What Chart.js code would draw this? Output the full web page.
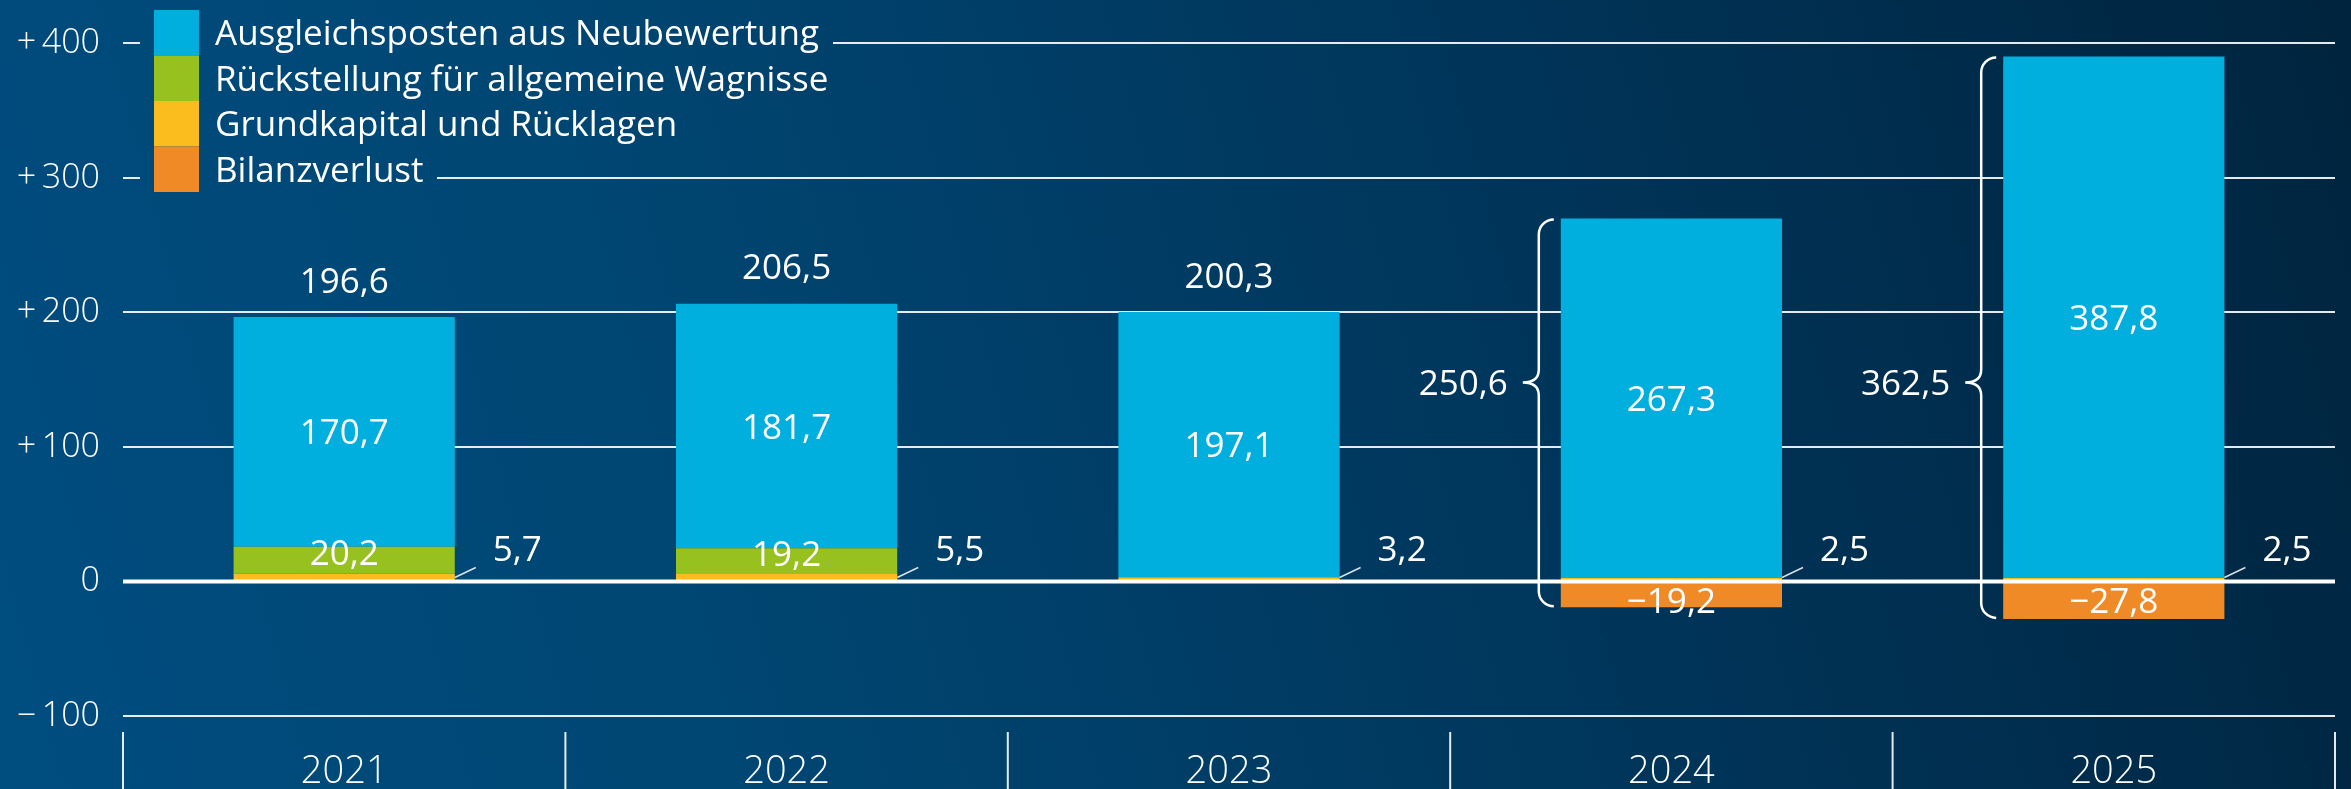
<!DOCTYPE html>
<html lang="de">
<head>
<meta charset="UTF-8">
<title>Eigenkapital</title>
<script src="https://cdn.jsdelivr.net/npm/chart.js"></script>
<style>
    html, body { margin: 0; padding: 0; overflow: hidden; }
    body {
        width: 2351px; height: 789px;
        background: linear-gradient(75deg, #004d80 0%, #004672 30%, #00355a 65%, #00243e 100%);
    }
    canvas { display: block; }
</style>
</head>
<body>
<canvas id="chart" width="2351" height="789"></canvas>
<script>
    const years = ['2021', '2022', '2023', '2024', '2025'];
    const neubewertung = [170.7, 181.7, 197.1, 267.3, 387.8];
    const wagnisse = [20.2, 19.2, 0, 0, 0];
    const grundkapital = [5.7, 5.5, 3.2, 2.5, 2.5];
    const bilanzverlust = [0, 0, 0, -19.2, -27.8];
    const totals = [196.6, 206.5, 200.3, 250.6, 362.5];
    const yTicks = [-100, 0, 100, 200, 300, 400];

    const seriesNames = ['Ausgleichsposten aus Neubewertung', 'Rückstellung für allgemeine Wagnisse', 'Grundkapital und Rücklagen', 'Bilanzverlust'];
    const seriesColors = ['#00afde', '#97c11f', '#fbbd1e', '#ef8a26'];

    const FONT = '"Open Sans", "DejaVu Sans", sans-serif';
    const braceTipValue = 148;

    function fmt(v) {
        return (v < 0 ? '\u2212' : '') + Math.abs(v).toFixed(1).replace('.', ',');
    }

    // draw text so that the digits are vertically centred on cy
    function label(ctx, str, x, cy, size, align, weight) {
        ctx.font = (weight || 400) + ' ' + size + 'px ' + FONT;
        ctx.textAlign = align || 'center';
        ctx.textBaseline = 'alphabetic';
        ctx.fillStyle = '#ffffff';
        ctx.fillText(str, x, cy + size * 0.357);
    }

    function line(ctx, x1, y1, x2, y2) {
        ctx.beginPath();
        ctx.moveTo(x1, y1);
        ctx.lineTo(x2, y2);
        ctx.stroke();
    }

    function drawBrace(ctx, x, top, bottom, tipY) {
        const r = 15, tw = 16, th = 13;
        ctx.beginPath();
        ctx.moveTo(x + r, top);
        ctx.arcTo(x, top, x, top + r, r);
        ctx.lineTo(x, tipY - th);
        ctx.quadraticCurveTo(x, tipY, x - tw, tipY);
        ctx.quadraticCurveTo(x, tipY, x, tipY + th);
        ctx.lineTo(x, bottom - r);
        ctx.arcTo(x, bottom, x + r, bottom, r);
        ctx.stroke();
    }

    const legendPlugin = {
        id: 'stackLegend',
        beforeDatasetsDraw(chart) {
            const ctx = chart.ctx;
            const left = 154, top = 10, sw = 45, rowH = 45.5;
            ctx.save();
            seriesNames.forEach((name, i) => {
                const y0 = top + i * rowH;
                ctx.font = '400 35px ' + FONT;
                const w = ctx.measureText(name).width;
                ctx.clearRect(140, y0, 215 + w + 14 - 140, rowH);
                ctx.fillStyle = seriesColors[i];
                ctx.fillRect(left, y0, sw, rowH);
                label(ctx, name, 215, y0 + rowH / 2, 35, 'left');
            });
            ctx.restore();
        }
    };

    const labelPlugin = {
        id: 'valueLabels',
        afterDatasetsDraw(chart) {
            const ctx = chart.ctx;
            const area = chart.chartArea;
            const y = chart.scales.y, x = chart.scales.x;
            const zeroY = y.getPixelForValue(0);
            ctx.save();
            ctx.strokeStyle = '#ffffff';

            // zero line on top of the bars
            ctx.lineWidth = 4;
            line(ctx, area.left, zeroY, area.right, zeroY);

            // category dividers below the plot
            const step = (area.right - area.left) / years.length;
            ctx.lineWidth = 2;
            ctx.strokeStyle = 'rgba(255,255,255,0.9)';
            for (let i = 0; i <= years.length; i++) {
                const px = i < years.length ? x.getPixelForValue(i) - step / 2 : x.getPixelForValue(i - 1) + step / 2;
                line(ctx, px, area.bottom + 16, px, chart.height);
            }

            years.forEach((yr, i) => {
                const grn = chart.getDatasetMeta(1).data[i];
                const blu = chart.getDatasetMeta(2).data[i];
                const org = chart.getDatasetMeta(3).data[i];
                const left = blu.x - blu.width / 2, right = blu.x + blu.width / 2;

                label(ctx, fmt(neubewertung[i]), blu.x, (blu.y + blu.base) / 2, 35);
                if (wagnisse[i]) label(ctx, fmt(wagnisse[i]), grn.x, (grn.y + grn.base) / 2 - 8, 35);

                ctx.strokeStyle = 'rgba(255,255,255,0.85)';
                ctx.lineWidth = 1.5;
                line(ctx, right, zeroY - 4, right + 21, zeroY - 14);
                label(ctx, fmt(grundkapital[i]), right + 38, zeroY - 33, 35, 'left');

                if (bilanzverlust[i] < 0) {
                    label(ctx, fmt(bilanzverlust[i]), org.x, Math.max((org.y + org.base) / 2, zeroY + 19), 35);
                    const bx = left - 22;
                    const tipY = y.getPixelForValue(braceTipValue);
                    ctx.strokeStyle = '#ffffff';
                    ctx.lineWidth = 2.5;
                    drawBrace(ctx, bx, blu.y + 1, org.y - 1, tipY);
                    label(ctx, fmt(totals[i]), bx - 31, tipY, 35, 'right');
                } else {
                    label(ctx, fmt(totals[i]), blu.x, blu.y - 37, 35);
                }
            });
            ctx.restore();
        }
    };

    new Chart(document.getElementById('chart'), {
        type: 'bar',
        data: {
            labels: years,
            datasets: [
                { label: seriesNames[2], data: grundkapital, backgroundColor: seriesColors[2] },
                { label: seriesNames[1], data: wagnisse, backgroundColor: seriesColors[1] },
                { label: seriesNames[0], data: neubewertung, backgroundColor: seriesColors[0] },
                { label: seriesNames[3], data: bilanzverlust, backgroundColor: seriesColors[3] }
            ]
        },
        options: {
            responsive: false,
            animation: false,
            layout: { padding: { top: 40, right: 16, left: 0, bottom: 0 } },
            datasets: { bar: { categoryPercentage: 0.5, barPercentage: 1, borderWidth: 0 } },
            plugins: { legend: { display: false }, tooltip: { enabled: false } },
            scales: {
                x: {
                    stacked: true,
                    grid: { display: false, drawTicks: false },
                    border: { display: false },
                    ticks: { color: '#ffffff', font: { family: FONT, size: 38, weight: 300 }, padding: 33 },
                    afterFit: s => { s.height = 73; }
                },
                y: {
                    stacked: true,
                    min: -100,
                    max: 400,
                    afterBuildTicks: s => { s.ticks = yTicks.map(v => ({ value: v })); },
                    grid: { color: 'rgba(255,255,255,0.9)', lineWidth: 2, drawTicks: false },
                    border: { display: false },
                    ticks: {
                        color: '#ffffff',
                        font: { family: FONT, size: 34, weight: 300 },
                        padding: 23,
                        callback: v => v > 0 ? '+\u2009' + v : (v < 0 ? '\u2212\u2009' + Math.abs(v) : '0')
                    },
                    afterFit: s => { s.width = 123; }
                }
            }
        },
        plugins: [legendPlugin, labelPlugin]
    });
</script>
</body>
</html>
